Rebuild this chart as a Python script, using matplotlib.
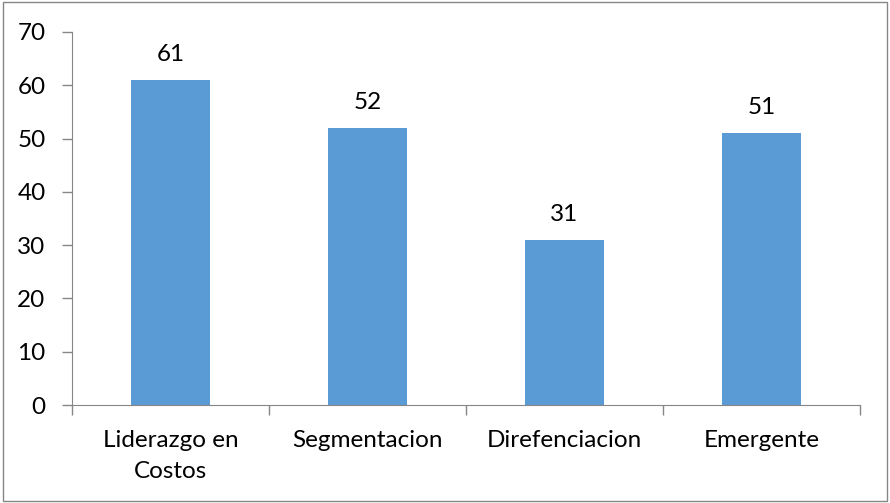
import matplotlib.pyplot as plt
import matplotlib.patches as patches
from matplotlib.ticker import FixedLocator, NullFormatter

categories = ['Liderazgo en\nCostos', 'Segmentacion', 'Direfenciacion', 'Emergente']
values = [61, 52, 31, 51]
yticks = [0, 10, 20, 30, 40, 50, 60, 70]

plt.rcParams['font.family'] = ['Lato', 'DejaVu Sans']
fs = 17.5

fig = plt.figure(figsize=(8.9, 5.03), dpi=100)
ax = fig.add_axes([0.0809, 0.1948, 0.8854, 0.7416])

x = list(range(len(categories)))
bars = ax.bar(x, values, width=0.4, color='#5B9BD5')
for b, v in zip(bars, values):
    ax.text(b.get_x() + b.get_width() / 2, v + 2.8, str(v), ha='center', va='bottom', fontsize=fs)

ax.set_xlim(-0.5, len(categories) - 0.5)
ax.set_ylim(0, 70)
ax.set_yticks(yticks)
ax.set_xticks(x)
ax.set_xticklabels(categories, fontsize=fs, linespacing=1.6)
ax.xaxis.set_minor_locator(FixedLocator([i - 0.5 for i in range(len(categories) + 1)]))
ax.xaxis.set_minor_formatter(NullFormatter())
ax.tick_params(axis='x', which='major', length=0, pad=18)
ax.tick_params(axis='x', which='minor', length=7, color='#868686', width=1)
ax.tick_params(axis='y', length=7, color='#868686', width=1, labelsize=fs, pad=12)

for s in ['top', 'right']:
    ax.spines[s].set_visible(False)
for s in ['left', 'bottom']:
    ax.spines[s].set_color('#868686')

fig.patches.append(patches.Rectangle((0.003, 0.003), 0.994, 0.993, transform=fig.transFigure,
                                     fill=False, edgecolor='#868686', linewidth=1))

fig.savefig('out.png', dpi=100)
